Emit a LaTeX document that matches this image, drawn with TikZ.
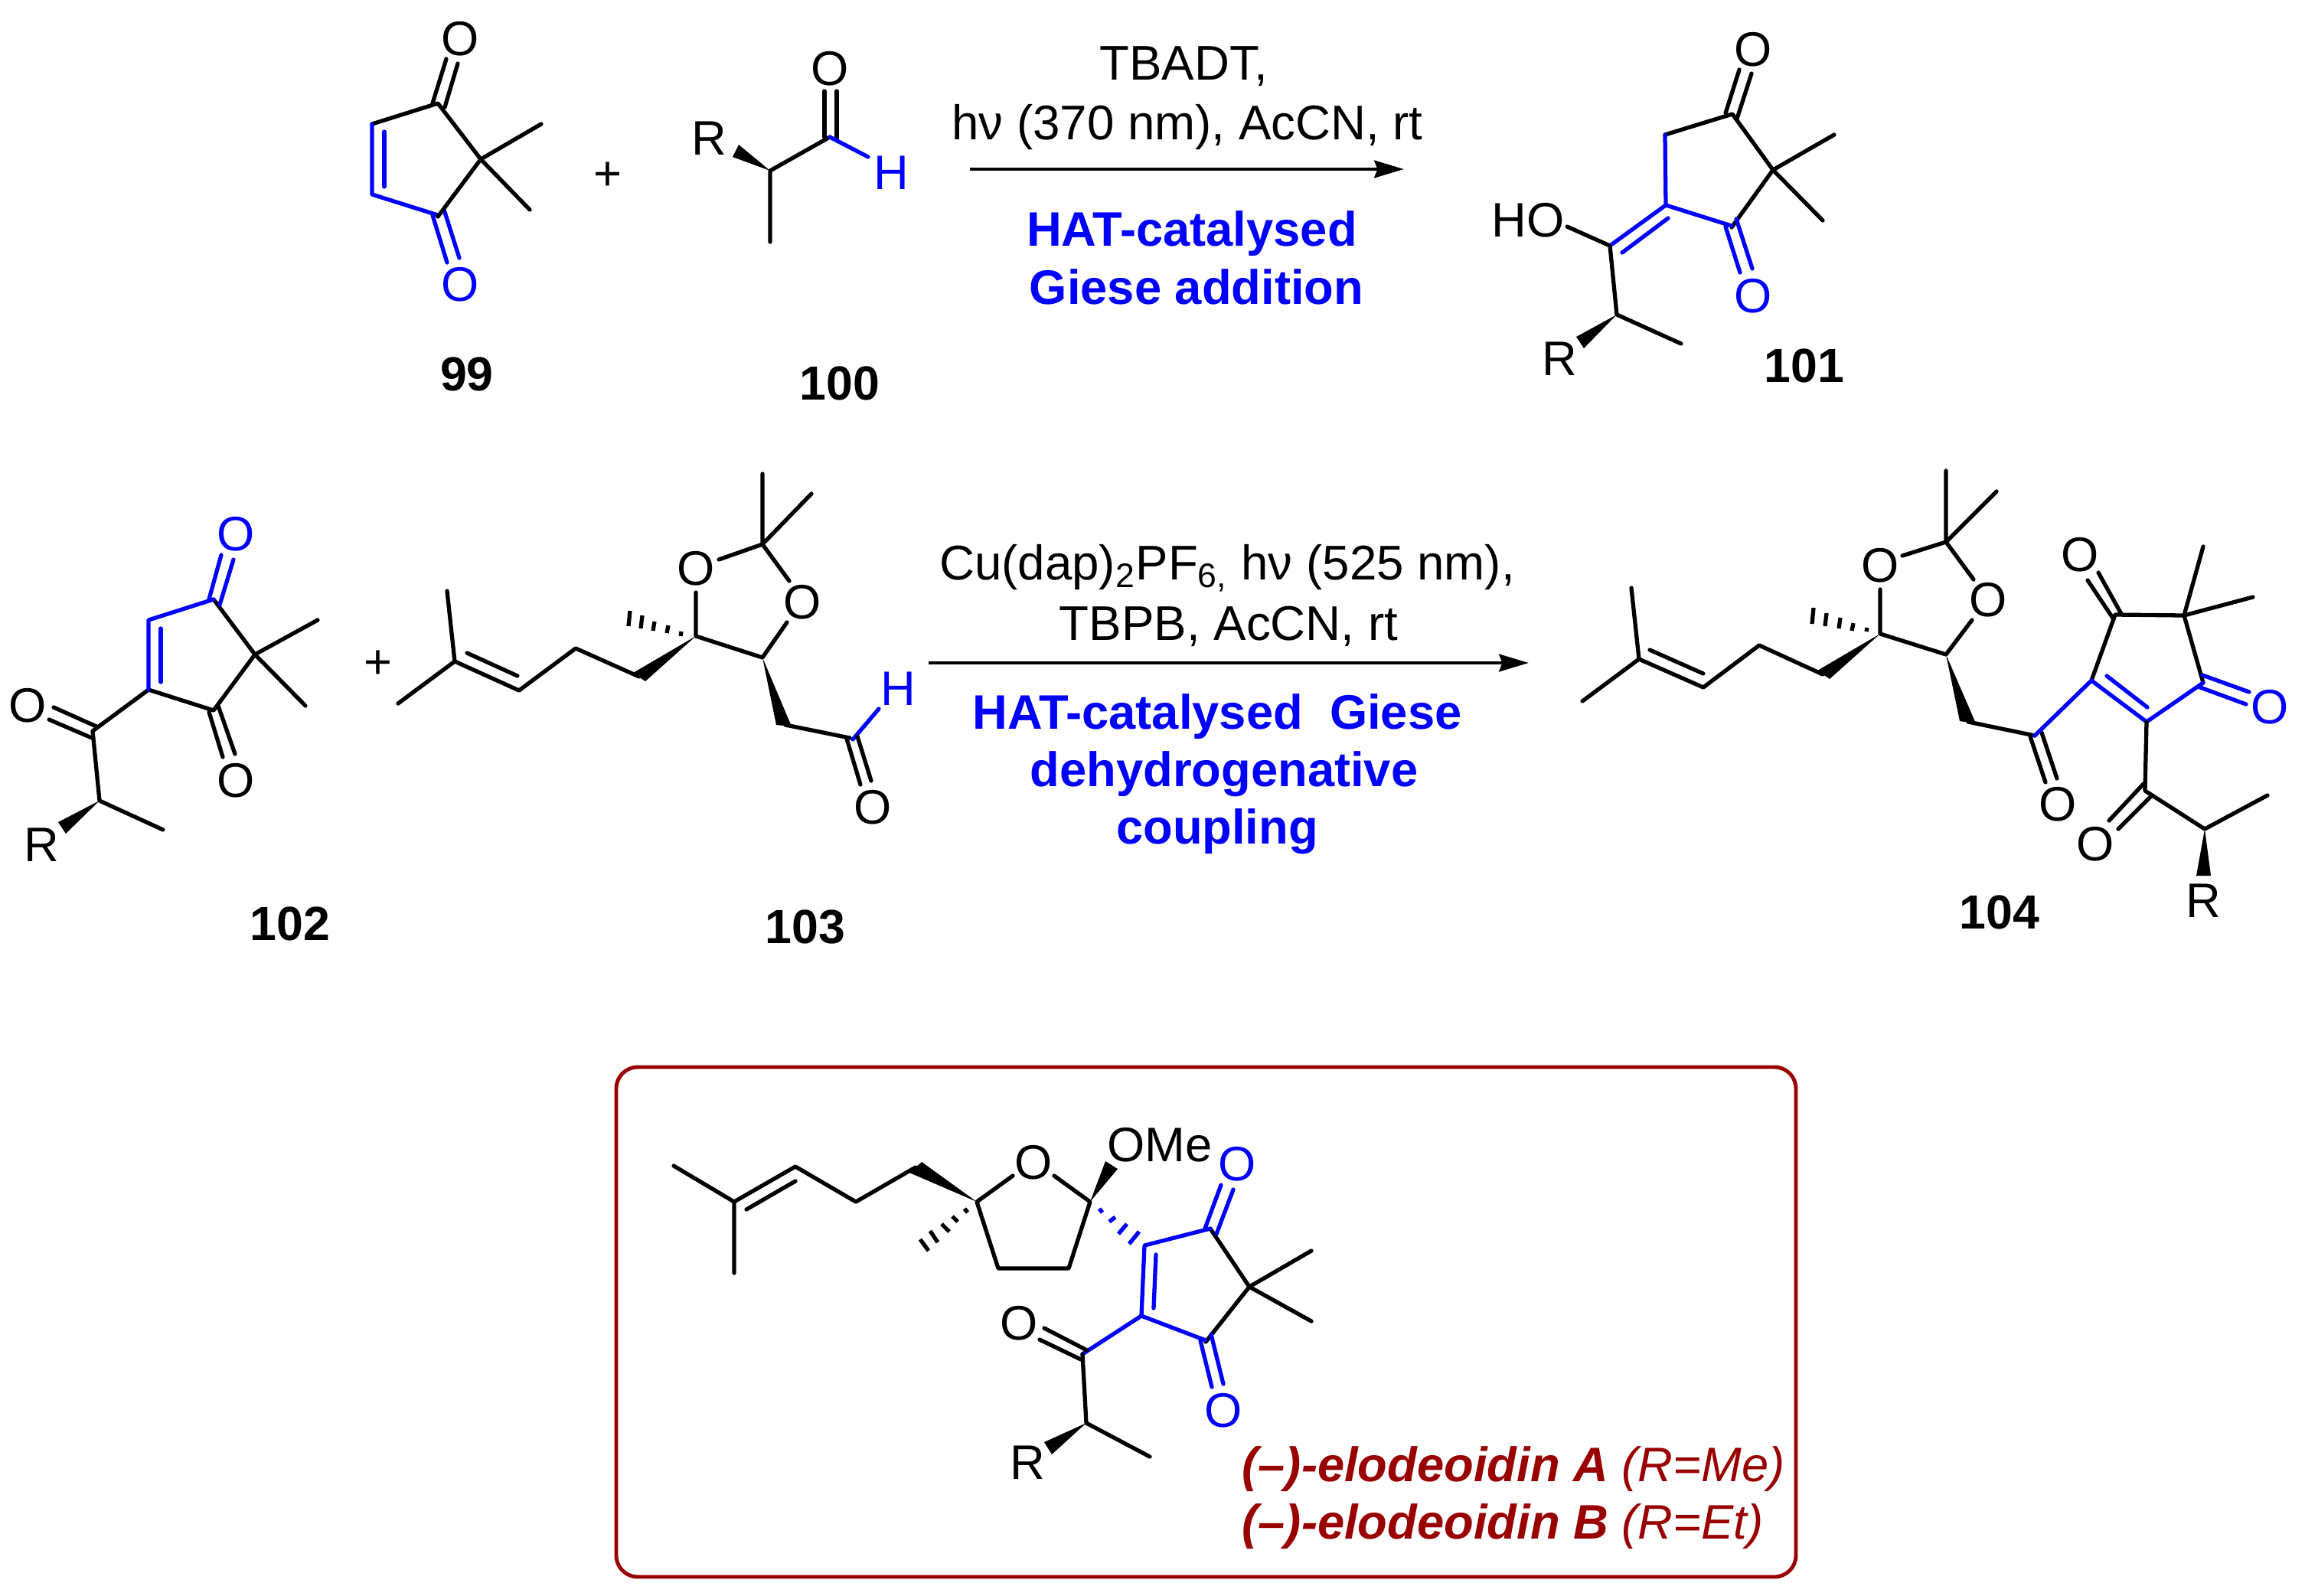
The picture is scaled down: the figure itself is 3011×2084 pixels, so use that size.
\documentclass[tikz,border=0pt]{standalone}
\usepackage{fontspec}
\setmainfont{Liberation Sans}
\usetikzlibrary{arrows.meta}
\definecolor{cblue}{RGB}{0,0,255}
\definecolor{dred}{RGB}{153,0,0}
\tikzset{
  bk/.style={draw=black,line width=1.5pt,line cap=round,line join=round},
  bl/.style={draw=cblue,line width=1.5pt,line cap=round,line join=round},
  hb/.style={draw=black,line width=1.5pt,line cap=butt},
  hbl/.style={draw=cblue,line width=1.5pt,line cap=butt},
  atom/.style={inner sep=0pt,font=\fontsize{18}{20}\selectfont,text=black},
  batom/.style={atom,text=cblue},
  reag/.style={inner sep=0pt,font=\fontsize{18.1}{20}\selectfont,text=black},
  hatlab/.style={inner sep=0pt,font=\fontsize{18}{20}\selectfont\bfseries,text=cblue},
  cmpd/.style={inner sep=0pt,font=\fontsize{17.8}{20}\selectfont\bfseries,text=black},
  natl/.style={inner sep=0pt,anchor=west,font=\fontsize{18}{20}\selectfont\itshape,text=dred},
  rxn/.style={draw=black,line width=1.4pt,-{Stealth[length=11pt,width=6.4pt,inset=1.2pt]}},
}
\begin{document}
\begin{tikzpicture}[x=0.01cm,y=-0.01cm]
\useasboundingbox (0,0) rectangle (3011,2084);
% ---------- 99
\draw[bk] (486,162)--(572,135)--(628,208);
\draw[bk] (707,162)--(628,208)--(692,274);
\draw[bk] (565,135)--(583,77);
\draw[bk] (581,140)--(598,83);
\draw[bl] (486,162)--(486,254)--(572,281);
\draw[bl] (502,172)--(502,244);
\draw[bl] (565,281)--(584,343);
\draw[bl] (580,274)--(600,337);
\draw[bk] (628,208)--(572,283);
\node[atom] (o99a) at (601,51) {O};
\node[batom] (o99b) at (601,372) {O};
\node[cmpd] (n99) at (610,489) {99};
\node[atom] (plus1) at (794,230) {+};
% ---------- 100
\draw[bk] (1006,316)--(1006,223)--(1084,179);
\draw[bk] (1077,119)--(1077,179);
\draw[bk] (1093,119)--(1093,181);
\draw[bl] (1084,179)--(1134,205);
\fill[black] (1006,223)--(965,189)--(957,205)--cycle;
\node[atom] (o100) at (1084,90) {O};
\node[batom] (h100) at (1164,226) {H};
\node[atom] (r100) at (926,181) {R};
\node[cmpd] (n100) at (1097,501) {100};
% ---------- arrow 1
\coordinate (a1s) at (1267,221);
\coordinate (a1e) at (1834,221);
\draw[rxn] (a1s)--(a1e);
\node[reag] (t1) at (1546,87) {TBADT,};
\node[reag] (t2) at (1551,166) {hν (370 nm), AcCN, rt};
\node[hatlab] (t3) at (1557,305) {HAT-catalysed};
\node[hatlab] (t4) at (1563,375) {Giese addition};
% ---------- 101
\draw[bk] (2175,176)--(2263,149)--(2316,222)--(2262,297);
\draw[bk] (2396,176)--(2316,222)--(2381,288);
\draw[bk] (2254,148)--(2272,91);
\draw[bk] (2269,155)--(2288,96);
\draw[bl] (2175,176)--(2176,268)--(2262,295);
\draw[bl] (2176,268)--(2103,321);
\draw[bl] (2119,330)--(2179,285);
\draw[bl] (2254,296)--(2273,356);
\draw[bl] (2268,286)--(2289,351);
\draw[bk] (2047,296)--(2103,321)--(2112,411)--(2196,449);
\fill[black] (2112,411)--(2059,440)--(2069,455)--cycle;
\node[atom] (o101a) at (2290,65) {O};
\node[batom] (o101b) at (2290,387) {O};
\node[atom] (ho101) at (1996,288) {HO};
\node[atom] (r101) at (2037,469) {R};
\node[cmpd] (n101) at (2357,478) {101};
% ---------- 102
\draw[bk] (279,783)--(333,855)--(279,928)--(194,901)--(121,955)--(130,1046)--(213,1084);
\draw[bk] (415,810)--(333,855)--(399,922);
\draw[bl] (279,783)--(194,810)--(194,901);
\draw[bl] (210,821)--(210,891);
\draw[bl] (273,783)--(289,725);
\draw[bl] (287,790)--(305,731);
\draw[bk] (273,930)--(291,989);
\draw[bk] (285,922)--(307,985);
\draw[bk] (70,924)--(126,949);
\draw[bk] (64,940)--(120,964);
\fill[black] (130,1046)--(76,1074)--(86,1089)--cycle;
\node[batom] (o102a) at (308,698) {O};
\node[atom] (o102b) at (308,1020) {O};
\node[atom] (o102c) at (36,922) {O};
\node[atom] (r102) at (54,1104) {R};
\node[cmpd] (n102) at (379,1207) {102};
\node[atom] (plus2) at (494,868) {+};
% ---------- 103
\draw[bk] (584,772)--(594,864)--(520,919);
\draw[bk] (594,864)--(678,902)--(752,847)--(835,884);
\draw[bk] (610,853)--(676,883);
\fill[black] (909,831)--(827,879)--(843,890)--cycle;
\draw[hb] (823,798)--(821,818);
\draw[hb] (839,804)--(837,821);
\draw[hb] (855,812)--(853,824);
\draw[hb] (873,817)--(871,827);
\draw[hb] (890,825)--(889,831);
\draw[bk] (909,774)--(909,831)--(996,859)--(1028,813);
\draw[bk] (939,731)--(996,711)--(1031,759);
\draw[bk] (996,619)--(996,711)--(1060,645);
\fill[black] (996,859)--(1014,947)--(1034,949)--cycle;
\draw[bk] (1026,947)--(1110,964);
\draw[bl] (1114,966)--(1148,926);
\draw[bk] (1106,965)--(1124,1025);
\draw[bk] (1120,962)--(1138,1020);
\node[atom] (o103a) at (909,743) {O};
\node[atom] (o103b) at (1048,787) {O};
\node[atom] (o103c) at (1140,1055) {O};
\node[batom] (h103) at (1173,900) {H};
\node[cmpd] (n103) at (1052,1211) {103};
% ---------- arrow 2
\coordinate (a2s) at (1213,866);
\coordinate (a2e) at (1997,866);
\draw[rxn] (a2s)--(a2e);
\node[reag] (t5) at (1603,742) {Cu(dap)\textsubscript{2}PF\textsubscript{6,} hν (525 nm),};
\node[reag] (t6) at (1605,818) {TBPB, AcCN, rt};
\node[hatlab] (t7) at (1590,936) {HAT-catalysed\ \ Giese};
\node[hatlab] (t8) at (1599,1011) {dehydrogenative};
\node[hatlab] (t9) at (1590,1086) {coupling};
% ---------- 104
\draw[bk] (2131,768)--(2141,861)--(2067,916);
\draw[bk] (2141,861)--(2225,898)--(2298,843)--(2381,881);
\draw[bk] (2155,849)--(2225,880);
\fill[black] (2456,828)--(2374,876)--(2390,887)--cycle;
\draw[hb] (2369,794)--(2367,815);
\draw[hb] (2386,801)--(2384,818);
\draw[hb] (2404,807)--(2402,821);
\draw[hb] (2421,814)--(2419,824);
\draw[hb] (2439,820)--(2438,825);
\draw[bk] (2456,770)--(2456,828)--(2542,855)--(2576,810);
\draw[bk] (2485,726)--(2542,708)--(2578,757);
\draw[bk] (2542,615)--(2542,708)--(2608,642);
\fill[black] (2542,855)--(2560,942)--(2581,945)--cycle;
\draw[bk] (2571,943)--(2658,961);
\draw[bk] (2652,962)--(2672,1022);
\draw[bk] (2667,957)--(2687,1017);
\draw[bk] (2732,889)--(2763,803)--(2853,804)--(2878,892);
\draw[bk] (2878,714)--(2853,804)--(2943,780);
\draw[bk] (2727,758)--(2761,809);
\draw[bk] (2741,748)--(2771,802);
\draw[bl] (2658,961)--(2732,889)--(2804,943)--(2878,892);
\draw[bl] (2752,883)--(2805,924);
\draw[bl] (2877,882)--(2938,904);
\draw[bl] (2874,898)--(2934,920);
\draw[bk] (2804,943)--(2802,1033)--(2880,1083)--(2962,1039);
\draw[bk] (2801,1023)--(2755,1072);
\draw[bk] (2810,1040)--(2767,1083);
\fill[black] (2880,1083)--(2869,1144)--(2888,1144)--cycle;
\node[atom] (o104a) at (2456,739) {O};
\node[atom] (o104b) at (2597,784) {O};
\node[atom] (o104c) at (2688,1051) {O};
\node[atom] (o104d) at (2717,725) {O};
\node[batom] (o104e) at (2965,924) {O};
\node[atom] (o104f) at (2737,1103) {O};
\node[atom] (r104) at (2878,1177) {R};
\node[cmpd] (n104) at (2612,1192) {104};
% ---------- box
\draw[draw=dred,line width=1.4pt,rounded corners=0.28cm] (805,1394) rectangle (2346,2060);
% ---------- elodeoidin
\draw[bk] (880,1523)--(959,1570)--(959,1663);
\draw[bk] (959,1570)--(1039,1524)--(1118,1570)--(1196,1525);
\draw[bk] (975,1580)--(1039,1543);
\fill[black] (1276,1570)--(1204,1518)--(1188,1532)--cycle;
\draw[hb] (1260,1579)--(1264,1584);
\draw[hb] (1244,1589)--(1251,1596);
\draw[hb] (1230,1599)--(1240,1609);
\draw[hb] (1215,1608)--(1225,1623);
\draw[hb] (1202,1619)--(1213,1634);
\draw[bk] (1323,1536)--(1276,1570)--(1304,1657)--(1396,1657)--(1424,1570)--(1377,1536);
\fill[black] (1424,1570)--(1444,1517)--(1460,1527)--cycle;
\draw[hbl] (1436,1579)--(1440,1584);
\draw[hbl] (1449,1596)--(1457,1590);
\draw[hbl] (1461,1612)--(1472,1599);
\draw[hbl] (1475,1625)--(1488,1609);
\draw[bk] (1581,1605)--(1632,1681)--(1575,1753);
\draw[bk] (1713,1634)--(1632,1681)--(1713,1726);
\draw[bl] (1581,1605)--(1495,1627)--(1491,1719)--(1575,1751);
\draw[bl] (1510,1639)--(1507,1709);
\draw[bl] (1574,1605)--(1595,1548);
\draw[bl] (1589,1612)--(1611,1554);
\draw[bl] (1568,1751)--(1583,1812);
\draw[bl] (1582,1743)--(1598,1808);
\draw[bl] (1491,1719)--(1414,1769);
\draw[bk] (1364,1735)--(1420,1764);
\draw[bk] (1358,1750)--(1412,1776);
\draw[bk] (1414,1769)--(1419,1859)--(1502,1903);
\fill[black] (1419,1859)--(1364,1884)--(1374,1900)--cycle;
\node[atom] (o1) at (1350,1519) {O};
\node[atom] (ome) at (1515,1496) {OMe};
\node[batom] (o2) at (1616,1521) {O};
\node[batom] (o3) at (1598,1843) {O};
\node[atom] (o4) at (1331,1729) {O};
\node[atom] (r5) at (1342,1911) {R};
\node[natl] (el1) at (1622,1919) {\bfseries (–)-elodeoidin A\ \mdseries (R=Me)};
\node[natl] (el2) at (1622,1994) {\bfseries (–)-elodeoidin B\ \mdseries (R=Et)};
\end{tikzpicture}
\end{document}
